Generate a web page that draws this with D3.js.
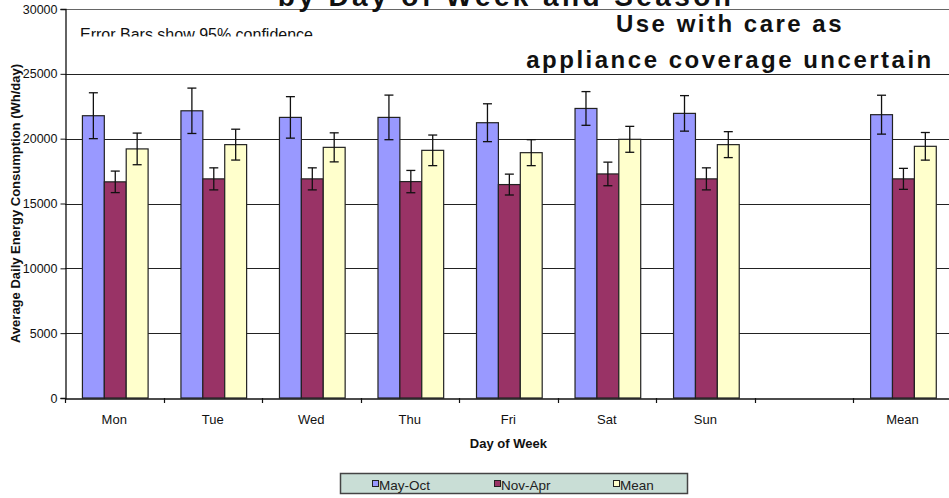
<!DOCTYPE html>
<html>
<head>
<meta charset="utf-8">
<script src="https://cdn.jsdelivr.net/npm/d3@7"></script>
<style>
  html, body { margin: 0; padding: 0; background: #fff; overflow: hidden; }
  svg { display: block; font-family: "Liberation Sans", Arial, sans-serif; }
</style>
</head>
<body>
<svg id="chart" width="949" height="498"></svg>
<script>
// Categories along the x axis (one empty slot separates the weekly mean)
const days = ["Mon", "Tue", "Wed", "Thu", "Fri", "Sat", "Sun", "", "Mean"];
const seriesNames = ["May-Oct", "Nov-Apr", "Mean"];
const seriesColors = ["#9999ff", "#993366", "#ffffcc"];

// Average daily energy consumption (Wh/day) and 95% confidence half-widths
const mayOct     = [21770, 22150, 21640, 21640, 21230, 22330, 21950, null, 21850];
const mayOctErr  = [1770, 1750, 1600, 1720, 1460, 1300, 1370, null, 1500];
const novApr     = [16670, 16900, 16900, 16690, 16460, 17280, 16900, null, 16900];
const novAprErr  = [830, 850, 850, 860, 805, 910, 850, null, 810];
const meanVals   = [19210, 19540, 19330, 19100, 18920, 19950, 19540, null, 19410];
const meanErr    = [1220, 1190, 1120, 1180, 1000, 1000, 1000, null, 1065];

const yTicks = [0, 5000, 10000, 15000, 20000, 25000, 30000];

const values = [mayOct, novApr, meanVals];
const errors = [mayOctErr, novAprErr, meanErr];

const rows = [];
days.forEach((d, i) => {
  seriesNames.forEach((s, j) => {
    if (values[j][i] != null) {
      rows.push({ day: d, series: s, color: seriesColors[j], value: values[j][i], err: errors[j][i] });
    }
  });
});

const svg = d3.select("#chart");
const plot = { left: 65, right: 951.7, top: 9, bottom: 398 };

const x0 = d3.scaleBand().domain(days).range([plot.left, plot.right]).paddingInner(0).paddingOuter(0);
const x1 = d3.scaleBand().domain(seriesNames).range([1, x0.bandwidth() + 1]).paddingInner(0).paddingOuter(0.75);
const y = d3.scaleLinear().domain([0, 30000]).range([plot.bottom, plot.top]);

// Horizontal gridlines
svg.append("g")
  .selectAll("line")
  .data(yTicks.filter(t => t > 0))
  .join("line")
  .attr("x1", plot.left).attr("x2", plot.right)
  .attr("y1", d => Math.round(y(d)) + 0.5).attr("y2", d => Math.round(y(d)) + 0.5)
  .attr("stroke", d => d === 30000 ? "#666" : "#222")
  .attr("stroke-width", 1);

// Note about the error bars (its text box clips the lower edge)
svg.append("defs").append("clipPath").attr("id", "noteClip")
  .append("rect").attr("x", 70).attr("y", 12).attr("width", 300).attr("height", 24.5);
svg.append("text")
  .attr("clip-path", "url(#noteClip)")
  .attr("x", 80).attr("y", 39.8)
  .attr("font-size", 16).attr("fill", "#111")
  .text("Error Bars show 95% confidence");

// Bars
const bars = svg.append("g");
bars.selectAll("rect")
  .data(rows)
  .join("rect")
  .attr("x", d => x0(d.day) + x1(d.series))
  .attr("y", d => y(d.value))
  .attr("width", x1.bandwidth())
  .attr("height", d => y(0) - y(d.value))
  .attr("fill", d => d.color)
  .attr("stroke", "#222")
  .attr("stroke-width", 1.2);

// Error bars
const eb = svg.append("g").attr("stroke", "#111").attr("stroke-width", 1.3);
rows.forEach(d => {
  const cx = x0(d.day) + x1(d.series) + x1.bandwidth() / 2;
  const yt = y(d.value + d.err), yb = y(d.value - d.err);
  eb.append("line").attr("x1", cx).attr("x2", cx).attr("y1", yt).attr("y2", yb);
  eb.append("line").attr("x1", cx - 4.5).attr("x2", cx + 4.5).attr("y1", yt).attr("y2", yt);
  eb.append("line").attr("x1", cx - 4.5).attr("x2", cx + 4.5).attr("y1", yb).attr("y2", yb);
});

// Y axis
const yAxis = svg.append("g")
  .attr("transform", `translate(${plot.left + 0.5},0)`)
  .call(d3.axisLeft(y).tickValues(yTicks).tickSize(5).tickPadding(3).tickFormat(d3.format("d")));
yAxis.select(".domain").attr("stroke", "#111").attr("stroke-width", 1.3);
yAxis.selectAll(".tick line").attr("stroke", "#111");
yAxis.selectAll(".tick text").attr("font-size", 12.5).attr("fill", "#111").attr("font-family", "Liberation Sans, Arial, sans-serif");

// X axis: labels centred on categories, ticks on category boundaries
const xAxis = svg.append("g")
  .attr("transform", `translate(0,${plot.bottom + 0.5})`)
  .call(d3.axisBottom(x0).tickSize(0).tickPadding(16));
xAxis.select(".domain").attr("stroke", "#111").attr("stroke-width", 1.3);
xAxis.selectAll(".tick text").attr("font-size", 13).attr("fill", "#111").attr("font-family", "Liberation Sans, Arial, sans-serif");

svg.append("g")
  .selectAll("line")
  .data(days.map((d, i) => plot.left + i * x0.step()))
  .join("line")
  .attr("x1", d => Math.round(d) + 0.5).attr("x2", d => Math.round(d) + 0.5)
  .attr("y1", plot.bottom).attr("y2", plot.bottom + 5)
  .attr("stroke", "#111").attr("stroke-width", 1.2);

// Axis titles
svg.append("text")
  .attr("x", (plot.left + plot.right) / 2).attr("y", 448)
  .attr("text-anchor", "middle").attr("font-size", 13).attr("font-weight", "bold").attr("fill", "#111")
  .text("Day of Week");

svg.append("text")
  .attr("transform", `translate(20,${(plot.top + plot.bottom) / 2}) rotate(-90)`)
  .attr("text-anchor", "middle").attr("font-size", 13).attr("font-weight", "bold").attr("fill", "#111")
  .text("Average Daily Energy Consumption (Wh/day)");

// Chart title (second line; the first sits above the frame)
svg.append("text")
  .attr("x", 506).attr("y", 6)
  .attr("text-anchor", "middle").attr("font-size", 28).attr("font-weight", "bold")
  .attr("letter-spacing", 3.4).attr("fill", "#111")
  .text("by Day of Week and Season");

// Caution note
const caution = svg.append("g").attr("font-size", 24).attr("font-weight", "bold")
  .attr("letter-spacing", 2.5).attr("fill", "#111").attr("text-anchor", "middle");
caution.append("text").attr("x", 730).attr("y", 32.3).text("Use with care as");
caution.append("text").attr("x", 730).attr("y", 68).text("appliance coverage uncertain");

// Legend
const legend = svg.append("g");
legend.append("rect")
  .attr("x", 340.5).attr("y", 473.5).attr("width", 347).attr("height", 20)
  .attr("fill", "#c9ded6").attr("stroke", "#444").attr("stroke-width", 1.5);
const legendX = [372, 494, 613];
seriesNames.forEach((s, j) => {
  legend.append("rect")
    .attr("x", legendX[j] + 0.5).attr("y", 480.5).attr("width", 6).attr("height", 6)
    .attr("fill", seriesColors[j]).attr("stroke", "#222").attr("stroke-width", 1);
  legend.append("text")
    .attr("x", legendX[j] + 7).attr("y", 490)
    .attr("font-size", 13.5).attr("fill", "#222")
    .text(s);
});
</script>
</body>
</html>
